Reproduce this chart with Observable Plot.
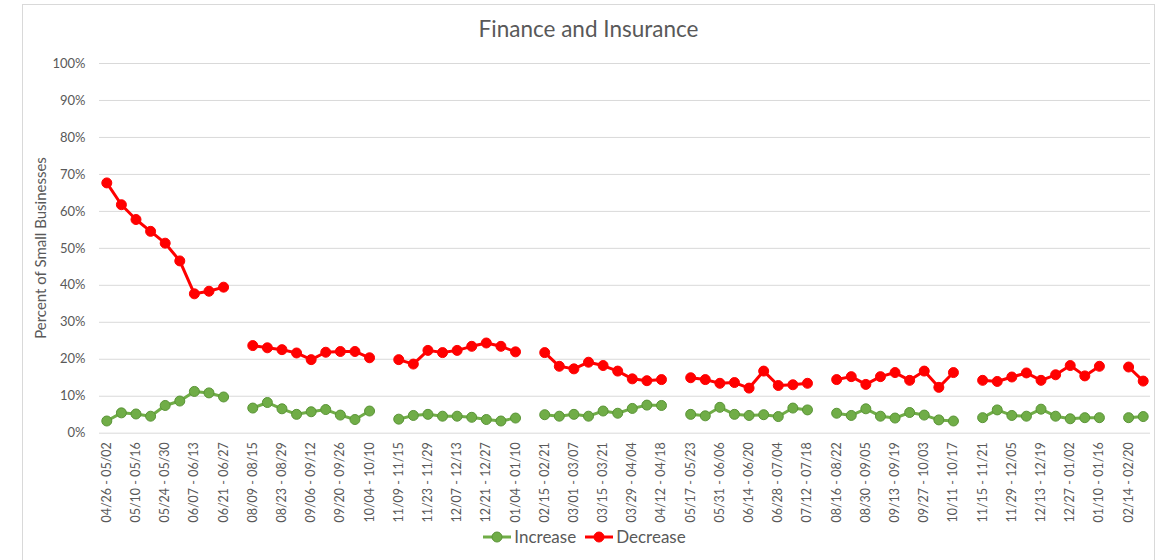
<!DOCTYPE html>
<html>
<head>
<meta charset="utf-8">
<script src="https://cdn.jsdelivr.net/npm/d3@7"></script>
<script src="https://cdn.jsdelivr.net/npm/@observablehq/plot@0.6"></script>
<style>
  html, body { margin: 0; padding: 0; background: #fff; }
  body { width: 1166px; height: 560px; position: relative; overflow: hidden; font-family: Lato, "Open Sans", sans-serif; }
  #box { position: absolute; left: 22px; top: 4px; width: 1133px; height: 600px; border: 1px solid #d9d9d9; box-sizing: border-box; }
  #title { position: absolute; left: 22px; width: 1133px; top: 15px; text-align: center; font-size: 22.5px; color: #595959; }
  #ylabel { position: absolute; left: 40px; top: 248px; transform: translate(-50%, -50%) rotate(-90deg); white-space: nowrap; font-size: 15px; color: #595959; }
  #chart { position: absolute; left: 0; top: 0; }
  #legend { position: absolute; left: 0; width: 1166px; top: 526px; display: flex; justify-content: center; align-items: center; font-size: 17px; color: #595959; padding-left: 10px; box-sizing: border-box; }
  .item { display: flex; align-items: center; margin: 0 8px 0 0; }
  .item svg { margin-right: 2px; }
</style>
</head>
<body>
<div id="box"></div>
<div id="title">Finance and Insurance</div>
<div id="ylabel">Percent of Small Businesses</div>
<div id="chart"></div>
<div id="legend"></div>
<script>
// Week categories (empty string = gap between survey phases)
const weeks = [
  "04/26 - 05/02","05/03 - 05/09","05/10 - 05/16","05/17 - 05/23","05/24 - 05/30","05/31 - 06/06","06/07 - 06/13","06/14 - 06/20","06/21 - 06/27","",
  "08/09 - 08/15","08/16 - 08/22","08/23 - 08/29","08/30 - 09/05","09/06 - 09/12","09/13 - 09/19","09/20 - 09/26","09/27 - 10/03","10/04 - 10/10","",
  "11/09 - 11/15","11/16 - 11/22","11/23 - 11/29","11/30 - 12/06","12/07 - 12/13","12/14 - 12/20","12/21 - 12/27","12/28 - 01/03","01/04 - 01/10","",
  "02/15 - 02/21","02/22 - 02/28","03/01 - 03/07","03/08 - 03/14","03/15 - 03/21","03/22 - 03/28","03/29 - 04/04","04/05 - 04/11","04/12 - 04/18","",
  "05/17 - 05/23","05/24 - 05/30","05/31 - 06/06","06/07 - 06/13","06/14 - 06/20","06/21 - 06/27","06/28 - 07/04","07/05 - 07/11","07/12 - 07/18","",
  "08/16 - 08/22","08/23 - 08/29","08/30 - 09/05","09/06 - 09/12","09/13 - 09/19","09/20 - 09/26","09/27 - 10/03","10/04 - 10/10","10/11 - 10/17","",
  "11/15 - 11/21","11/22 - 11/28","11/29 - 12/05","12/06 - 12/12","12/13 - 12/19","12/20 - 12/26","12/27 - 01/02","01/03 - 01/09","01/10 - 01/16","",
  "02/14 - 02/20","02/21 - 02/27"
];

// Percent of small businesses reporting an increase
const increase = [
  3.3, 5.5, 5.2, 4.6, 7.5, 8.7, 11.3, 10.9, 9.8, null,
  6.8, 8.3, 6.6, 5.1, 5.8, 6.4, 4.9, 3.7, 6.0, null,
  3.8, 4.8, 5.1, 4.6, 4.6, 4.3, 3.7, 3.3, 4.1, null,
  5.0, 4.6, 5.1, 4.6, 6.0, 5.4, 6.7, 7.6, 7.5, null,
  5.1, 4.7, 7.0, 5.1, 4.8, 5.0, 4.5, 6.8, 6.3, null,
  5.4, 4.8, 6.6, 4.6, 4.1, 5.6, 4.9, 3.6, 3.3, null,
  4.2, 6.3, 4.8, 4.6, 6.5, 4.6, 3.9, 4.2, 4.2, null,
  4.2, 4.5
];

// Percent of small businesses reporting a decrease
const decrease = [
  67.7, 61.8, 57.8, 54.6, 51.4, 46.6, 37.7, 38.4, 39.5, null,
  23.7, 23.1, 22.6, 21.7, 19.9, 21.9, 22.1, 22.1, 20.4, null,
  19.9, 18.7, 22.4, 21.8, 22.4, 23.5, 24.4, 23.5, 22.0, null,
  21.8, 18.1, 17.4, 19.2, 18.3, 16.8, 14.7, 14.2, 14.5, null,
  15.0, 14.5, 13.5, 13.7, 12.2, 16.8, 12.9, 13.1, 13.5, null,
  14.5, 15.3, 13.2, 15.3, 16.4, 14.3, 16.8, 12.4, 16.4, null,
  14.3, 14.0, 15.2, 16.3, 14.3, 15.8, 18.3, 15.5, 18.1, null,
  17.9, 14.1
];

const yTicks = [0, 10, 20, 30, 40, 50, 60, 70, 80, 90, 100];

const series = [
  {name: "Increase", values: increase, color: "#70AD47", stroke: "#5A9437"},
  {name: "Decrease", values: decrease, color: "#FF0000", stroke: "#FF0000"}
];

const rows = weeks.map((w, i) => ({i, week: w, increase: increase[i], decrease: decrease[i]}));
const labeledTicks = d3.range(weeks.length).filter(i => i % 2 === 0 && weeks[i] !== "");

const seriesMarks = series.flatMap(s => {
  const key = s.name.toLowerCase();
  return [
    Plot.line(rows, {x: "i", y: key, stroke: s.color, strokeWidth: 3, curve: "linear"}),
    Plot.dot(rows.filter(d => d[key] != null), {x: "i", y: key, r: 5, fill: s.color, stroke: s.stroke, strokeWidth: 1})
  ];
});

const chart = Plot.plot({
  width: 1166,
  height: 525,
  marginLeft: 99,
  marginRight: 16,
  marginTop: 63,
  marginBottom: 92.3,
  style: {fontFamily: "Lato, 'Open Sans', sans-serif", color: "#595959", background: "transparent", overflow: "visible"},
  x: {type: "point", domain: d3.range(weeks.length), padding: 0.5},
  y: {domain: [0, 100]},
  marks: [
    Plot.gridY(yTicks, {stroke: "#d9d9d9", strokeOpacity: 1, strokeWidth: 1}),
    Plot.axisY(yTicks, {tickSize: 0, tickPadding: 14, tickFormat: d => d + "%", fontSize: 13, label: null}),
    Plot.axisX(labeledTicks, {tickSize: 0, tickPadding: 9, tickRotate: -90, tickFormat: i => weeks[i], fontSize: 12.5, label: null}),
    ...seriesMarks
  ]
});
document.getElementById("chart").appendChild(chart);

// Legend
const legend = document.getElementById("legend");
series.forEach(s => {
  const item = document.createElement("div");
  item.className = "item";
  item.innerHTML = `<svg width="30" height="14"><line x1="1" x2="29" y1="7" y2="7" stroke="${s.color}" stroke-width="3"/><circle cx="15" cy="7" r="5" fill="${s.color}" stroke="${s.stroke}"/></svg><span>${s.name}</span>`;
  legend.appendChild(item);
});
</script>
</body>
</html>
